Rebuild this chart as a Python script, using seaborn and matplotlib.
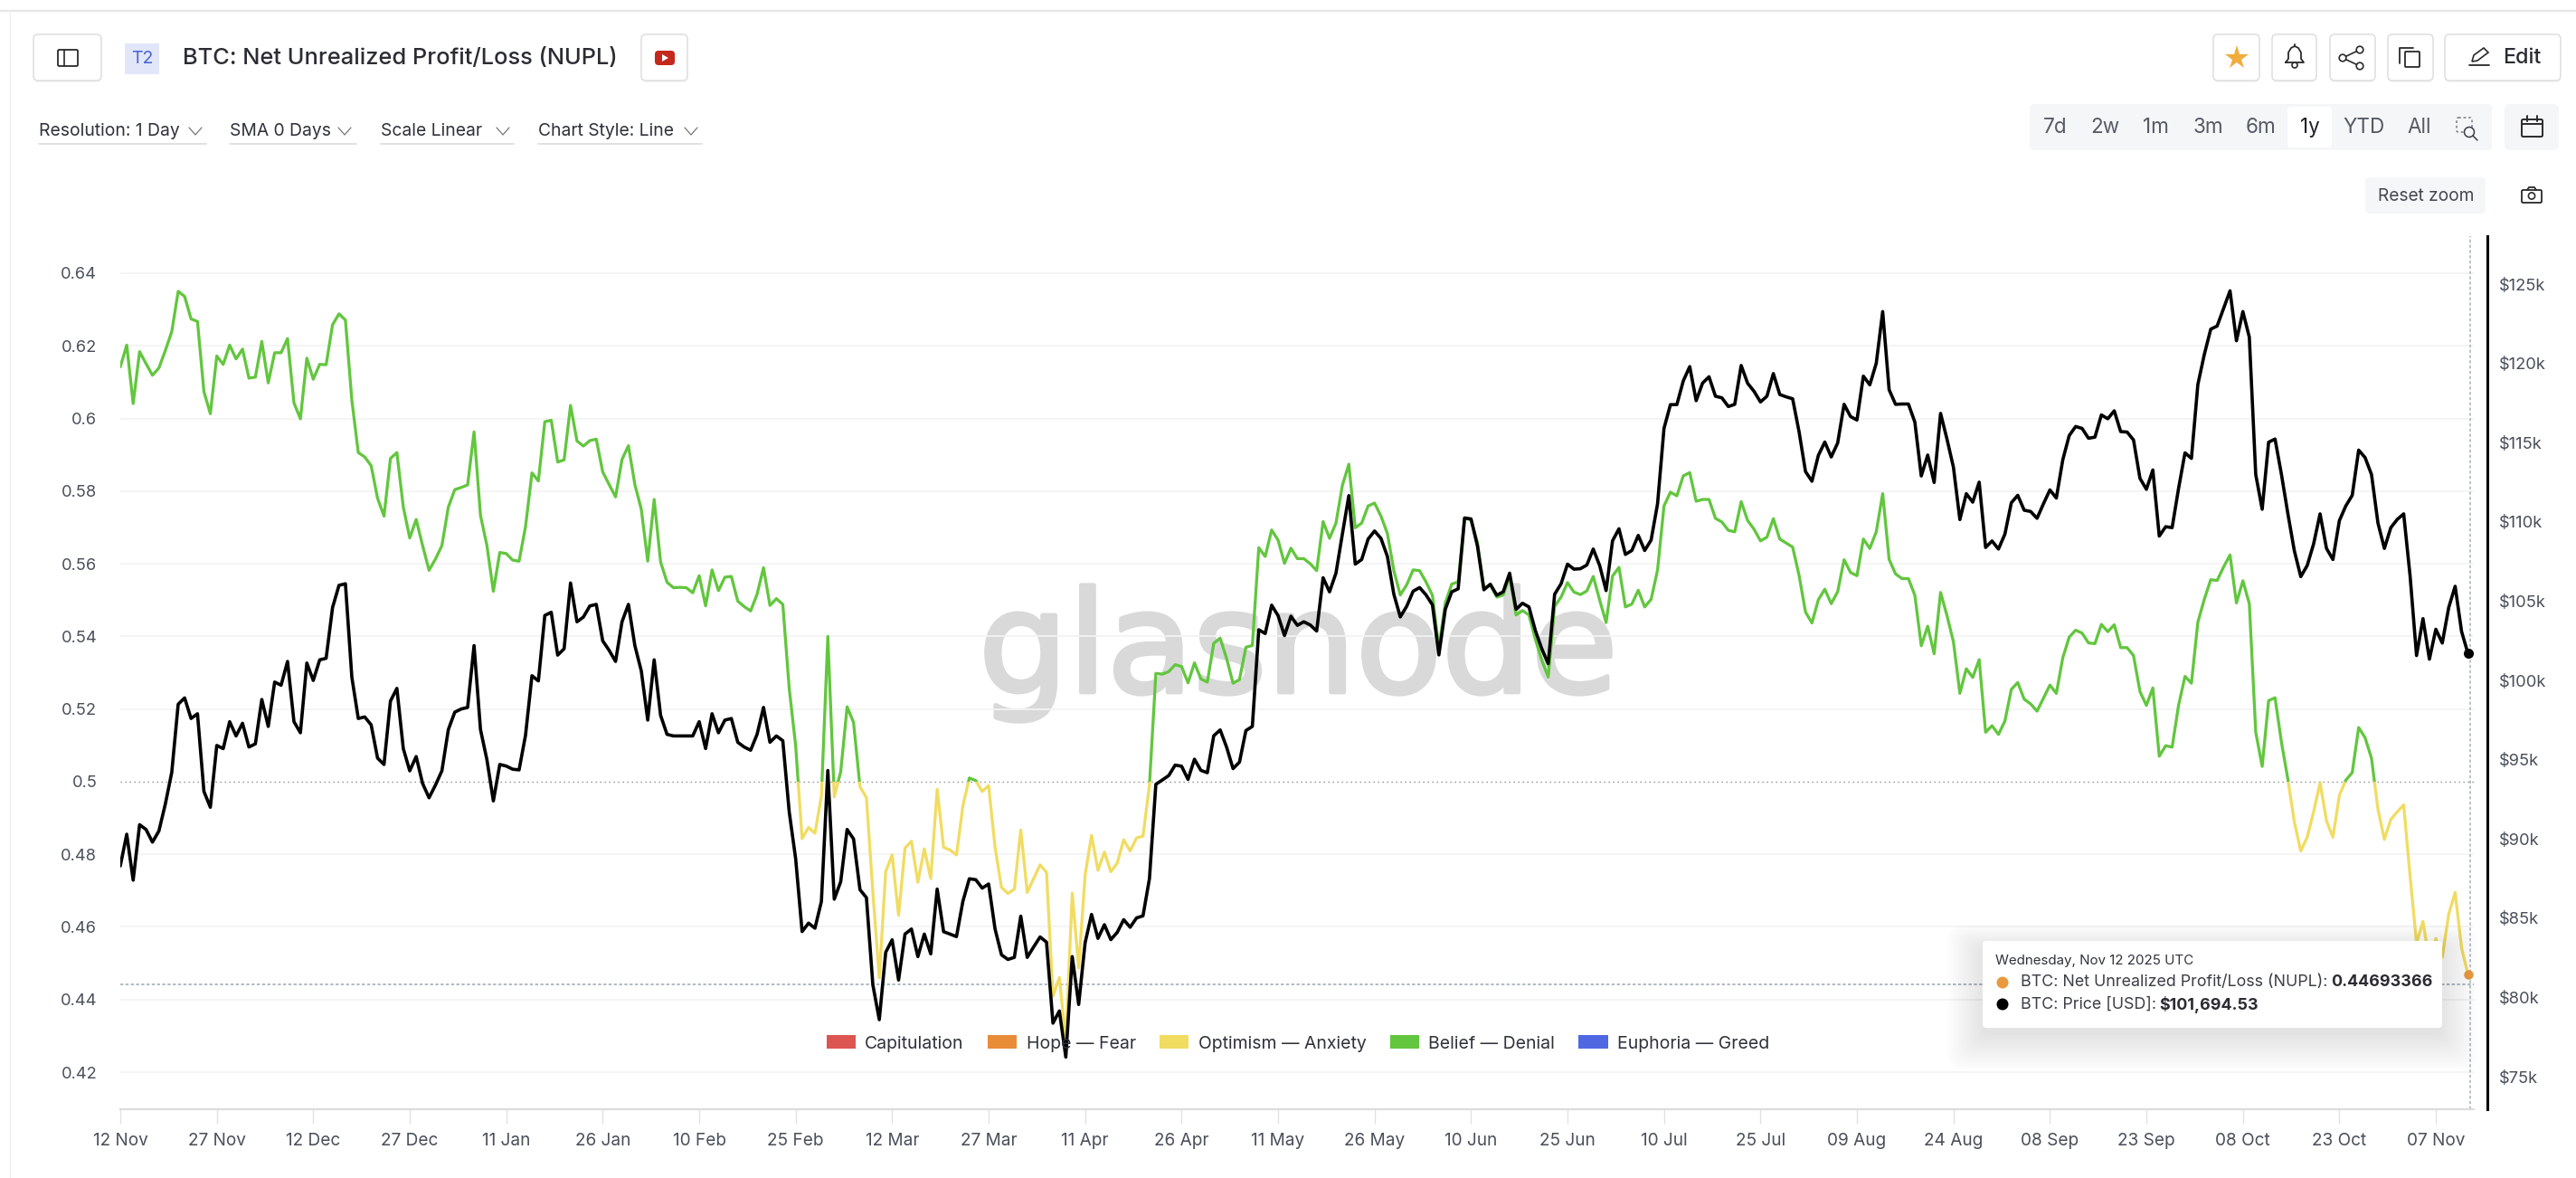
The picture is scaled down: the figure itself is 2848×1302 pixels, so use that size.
import numpy as np
import pandas as pd
import seaborn as sns
import matplotlib
matplotlib.use("Agg")
import matplotlib.pyplot as plt
import matplotlib.dates as mdates
import matplotlib.patheffects as pe
from matplotlib.patches import FancyBboxPatch, Rectangle, Patch, Polygon, Circle

# ---------------------------------------------------------------- data
START_DATE = "2024-11-12"
NUPL = [
 .6142,.6202,.6041,.6184,.6151,.6119,.6139,.6187,.6239,.6350,.6336,.6274,.6267,.6074,.6013,.6172,.6149,.6202,.6164,.6191,
 .6111,.6114,.6212,.6098,.6181,.6181,.6220,.6043,.5999,.6166,.6108,.6149,.6148,.6258,.6288,.6271,.6050,.5906,.5894,.5870,
 .5780,.5731,.5890,.5906,.5756,.5671,.5722,.5650,.5582,.5613,.5650,.5756,.5804,.5810,.5817,.5963,.5733,.5650,.5524,.5631,
 .5628,.5610,
 .5607,.5702,.5850,.5828,.5991,.5995,.5880,.5886,.6036,.5938,.5924,.5939,.5943,.5853,.5818,.5784,.5887,.5925,.5818,.5750,
 .5607,.5777,.5605,.5549,.5534,.5535,.5534,.5520,.5567,.5484,.5583,.5526,.5563,.5565,.5497,.5482,.5470,.5516,.5589,.5485,
 .5504,.5488,.5256,.5099,.4843,.4874,.4858,.4960,.5400,.4958,.5027,.5206,.5163,.4986,.4956,
 .4696,.4460,.4753,.4798,.4632,.4817,.4836,
 .4723,.4815,.4733,.4979,.4819,.4812,.4798,.4933,.5010,.5003,.4973,.4989,.4819,.4709,.4692,.4704,.4867,.4695,.4733,.4771,
 .4750,.4409,.4461,.4285,.4693,.4487,.4743,.4852,.4756,.4806,.4752,.4776,.4840,.4809,.4845,.4850,.4990,.5298,.5296,.5303,
 .5322,.5317,.5272,.5327,.5283,.5274,.5381,.5395,.5339,.5271,.5281,.5370,.5375,.5644,.5620,
 .5693,.5665,.5601,.5643,.5614,.5614,
 .5600,.5581,.5716,.5670,.5712,.5816,.5874,.5699,.5712,.5759,.5767,.5731,.5683,.5581,.5514,.5542,.5583,.5581,.5550,.5513,
 .5367,.5492,.5544,.5550,.5726,.5720,.5658,.5533,.5542,.5508,.5514,.5566,.5459,.5471,.5459,.5392,.5334,.5288,.5483,.5508,
 .5548,.5522,.5515,.5525,.5565,.5500,.5438,.5566,.5590,.5481,.5489,.5527,.5481,.5502,.5583,.5759,.5797,.5787,.5842,.5851,
 .5772,.5777,
 .5777,.5725,.5715,.5692,.5688,.5771,.5719,.5695,.5663,.5673,.5724,.5668,.5657,.5646,.5568,.5467,.5437,.5501,.5530,.5490,
 .5523,.5611,.5576,.5567,.5668,.5642,.5688,.5793,.5612,.5572,.5559,.5559,.5513,.5374,.5428,.5352,.5521,.5457,.5385,.5243,
 .5311,.5287,.5336,.5136,.5154,.5130,.5167,.5254,.5273,.5227,.5214,.5194,.5230,.5266,.5243,.5341,.5398,.5417,.5409,.5382,
 .5380,
 .5433,.5413,.5432,.5369,.5369,.5347,.5248,.5210,.5258,.5070,.5099,.5095,.5210,.5290,.5271,.5439,.5502,.5556,.5554,.5591,
 .5624,.5492,.5553,.5490,.5136,.5042,.5223,.5231,.5108,.5006,.4889,.4809,.4847,.4917,.4997,.4892,.4847,.4962,.5004,.5025,
 .5149,.5121,.5064,.4924,.4841,.4896,.4917,.4936,.4739,.4555,.4615,.4505,.4568,.4517,.4635,.4695,.4542,.44693366,
]
PRICE_K = [
 88.3,90.3,87.4,90.9,90.6,89.8,90.5,92.2,94.2,98.5,98.9,97.6,97.9,93.0,92.0,95.9,95.7,97.4,96.5,97.3,
 95.8,96.0,98.8,97.1,99.9,99.7,101.2,97.4,96.7,101.1,100.0,101.3,101.4,104.6,106.0,106.1,100.2,97.6,97.7,97.2,
 95.1,94.7,98.7,99.5,95.7,94.3,95.2,93.5,92.6,93.4,94.3,96.9,98.0,98.2,98.3,102.2,96.9,95.0,92.4,94.7,
 94.6,94.4,
 94.36,96.54,100.3,99.97,104.1,104.3,101.6,102.0,106.15,103.7,104.0,104.7,104.8,102.5,101.9,101.2,103.7,104.8,102.2,100.6,
 97.5,101.3,97.8,96.6,96.5,96.5,96.5,96.5,97.4,95.7,97.9,96.7,97.5,97.6,96.1,95.8,95.6,96.6,98.3,96.1,
 96.5,96.2,91.7,88.75,
 84.16,84.69,84.37,86.06,94.32,86.2,87.3,90.6,90.0,86.8,86.3,
 80.8,78.6,82.85,83.64,81.1,84.0,
 84.32,82.58,84.0,82.75,86.84,84.15,84.0,83.84,86.07,87.49,87.43,86.9,87.16,84.32,82.69,82.4,82.53,85.13,82.53,83.19,
 83.82,83.49,78.38,79.15,76.24,82.58,79.56,83.45,85.24,83.73,84.59,83.65,84.11,84.91,84.43,85.02,85.15,87.49,93.45,93.72,
 94.0,94.66,94.59,93.76,95.03,94.33,94.18,96.51,96.88,95.79,94.44,94.85,96.84,97.1,103.2,102.96,104.75,104.09,102.83,104.05,
 103.48,103.7,103.5,
 103.12,106.48,105.59,106.77,109.24,111.66,107.34,107.63,108.92,109.43,108.96,107.82,105.44,104.01,104.68,105.63,105.86,105.4,104.77,101.61,
 104.49,105.59,105.78,110.25,110.19,108.48,105.72,106.07,105.38,105.59,106.77,104.49,104.87,104.64,103.15,102.0,101.06,105.44,106.1,107.34,
 107.02,107.05,107.28,108.29,107.25,105.67,108.81,109.57,107.95,108.2,109.15,108.2,108.86,111.15,
 115.9,117.4,117.4,118.9,119.8,117.65,118.76,
 119.16,117.93,117.83,117.28,117.42,119.87,118.75,118.24,117.57,117.93,119.36,118.04,117.89,117.77,115.69,113.18,112.57,114.2,115.04,114.1,
 114.98,117.42,116.65,116.43,119.2,118.65,120.01,123.27,118.34,117.42,117.44,117.44,116.3,112.9,114.22,112.49,116.85,115.22,113.45,110.15,
 111.78,111.25,112.51,108.39,108.8,108.29,109.23,111.21,111.68,110.74,110.66,110.23,111.15,112.02,111.51,113.92,115.45,116.02,115.9,115.28,
 115.35,116.75,116.51,
 117.01,115.7,115.67,115.17,112.75,112.06,113.28,109.11,109.7,109.64,112.11,114.36,114.01,118.67,120.56,122.16,122.36,123.47,124.58,121.43,
 123.27,121.66,112.99,110.8,115.03,115.23,112.99,110.51,108.18,106.55,107.25,108.62,110.51,108.33,107.63,110.08,111.01,111.68,114.53,114.06,
 112.99,109.93,108.33,109.64,110.16,110.51,106.58,101.57,103.9,101.34,103.23,102.36,104.6,105.94,103.09,101.69453,
]
assert len(NUPL) == 366 and len(PRICE_K) == 366, (len(NUPL), len(PRICE_K))

X_TICK_LABELS = ["12 Nov","27 Nov","12 Dec","27 Dec","11 Jan","26 Jan","10 Feb","25 Feb","12 Mar","27 Mar","11 Apr",
                 "26 Apr","11 May","26 May","10 Jun","25 Jun","10 Jul","25 Jul","09 Aug","24 Aug","08 Sep","23 Sep",
                 "08 Oct","23 Oct","07 Nov"]
NUPL_TICKS = [.42,.44,.46,.48,.5,.52,.54,.56,.58,.6,.62,.64]
NUPL_TICK_LABELS = ["0.42","0.44","0.46","0.48","0.5","0.52","0.54","0.56","0.58","0.6","0.62","0.64"]
PRICE_TICKS = [75,80,85,90,95,100,105,110,115,120,125]
PRICE_TICK_LABELS = [f"${t}k" for t in PRICE_TICKS]
ZONE_NAMES = ["Capitulation","Hope — Fear","Optimism — Anxiety","Belief — Denial","Euphoria — Greed"]
ZONE_COLORS = ["#dc5550","#e98c38","#f1dc62","#62c63e","#4f68e2"]
CROSSHAIR_NUPL = 0.4441

# ---------------------------------------------------------------- theme
sns.set_theme(style="white")
FONT = ["Inter", "DejaVu Sans"]
plt.rcParams["font.family"] = FONT
W, H = 2848, 1302
TXT = "#33363d"
TICK = "#4a4f5a"

fig = plt.figure(figsize=(W/100, H/100), dpi=100, facecolor="white")
L, R, T, B = 133, 2735, 261, 1226
ax = fig.add_axes([L/W, 1-B/H, (R-L)/W, (B-T)/H])

dates = pd.date_range(START_DATE, periods=len(NUPL), freq="D")
df = pd.DataFrame({"date": dates, "nupl": NUPL, "price": PRICE_K})
x0, x1 = dates[0], dates[0] + pd.Timedelta(days=365.9)

sns.lineplot(data=df, x="date", y="nupl", ax=ax, color="#62c63e", lw=2.35, errorbar=None, legend=False)
green = ax.lines[-1]
sns.lineplot(data=df, x="date", y="nupl", ax=ax, color="#f1dc62", lw=2.35, errorbar=None, legend=False)
yellow = ax.lines[-1]
ax.set_xlim(x0, x1)
ax.set_ylim(0.4098, 0.6502)
xa, xb = mdates.date2num(x0), mdates.date2num(x1)
green.set_clip_path(Rectangle((xa, .5), xb-xa, .1502, transform=ax.transData))
yellow.set_clip_path(Rectangle((xa, .4098), xb-xa, .0902, transform=ax.transData))

ax.set_xlabel(""); ax.set_ylabel("")
ax.set_xticks(list(dates[::15]))
ax.set_xticklabels(X_TICK_LABELS)
ax.set_yticks(NUPL_TICKS)
ax.set_yticklabels(NUPL_TICK_LABELS)
ax.tick_params(axis="x", length=11.5, width=1, color="#e2e2e2", labelsize=13.7, labelcolor=TICK, pad=7, bottom=True)
ax.tick_params(axis="y", length=0, labelsize=13.2, labelcolor=TICK, pad=18.5)
for s in ["left", "top", "right"]:
    ax.spines[s].set_visible(False)
ax.spines["bottom"].set_color("#dcdcdc")
ax.spines["bottom"].set_linewidth(1.6)
ax.grid(True, axis="y", color="#f3f3f3", lw=1.3)
ax.grid(False, axis="x")
for gl, v in zip(ax.yaxis.get_gridlines(), NUPL_TICKS):
    if v == .5:
        gl.set_visible(False)
ax.axhline(.5, color="#8a8a8a", lw=1.0, ls=(0, (1, 2.6)), zorder=1.6)
ax.axhline(CROSSHAIR_NUPL, color="#9ba7b6", lw=1.1, ls=(0, (2.2, 1.6)), zorder=1.6)
ax.axvline(mdates.date2num(x0 + pd.Timedelta(days=365.4)), color="#a8b2be", lw=1.1, ls=(0, (2.2, 1.6)), zorder=1.6)
ax.plot([dates[-1]], [NUPL[-1]], "o", color="#e99a3f", ms=7.5, mew=0, zorder=5, clip_on=False)
ax.text(1082/W, 1-765/H, "glasnode", transform=fig.transFigure, fontsize=112, family="DejaVu Sans",
        color="#d9d9d9", va="baseline", ha="left", zorder=.5,
        path_effects=[pe.withStroke(linewidth=3.5, foreground="#d9d9d9")])

# right axis
tw = ax.twinx()
sns.lineplot(data=df, x="date", y="price", ax=tw, color="black", lw=2.6, errorbar=None, legend=False)
tw.plot([dates[-1]], [PRICE_K[-1]], "o", color="black", ms=8, mew=0, zorder=5, clip_on=False)
tw.set_xlim(x0, x1)
tw.set_ylim(72.95, 128.03)
tw.set_ylabel(""); tw.set_xlabel("")
tw.set_yticks(PRICE_TICKS)
tw.set_yticklabels(PRICE_TICK_LABELS)
tw.grid(False)
tw.tick_params(axis="y", length=0, labelsize=13.2, labelcolor=TICK, pad=9)
for s in ["left", "top", "bottom"]:
    tw.spines[s].set_visible(False)
tw.spines["right"].set_position(("outward", 10.8))
tw.spines["right"].set_color("black")
tw.spines["right"].set_linewidth(2.2)
tw.spines["right"].set_visible(True)

handles = [Patch(facecolor=c, edgecolor="none", label=n) for n, c in zip(ZONE_NAMES, ZONE_COLORS)]
tw.legend(handles=handles, ncol=5, frameon=False, fontsize=14, loc="center",
          bbox_to_anchor=((1435 - L)/(R-L), 1-(1153.5-T)/(B-T)),
          handlelength=1.65, handleheight=.8, handletextpad=.53, columnspacing=1.36, labelcolor="#2f323a",
          borderpad=0, borderaxespad=0)

# ---------------------------------------------------------------- page chrome overlay (pixel space)
ui = fig.add_axes([0, 0, 1, 1], zorder=10, facecolor="none")
ui.set_xlim(0, W); ui.set_ylim(H, 0); ui.axis("off")

def box(x0, y0, x1, y1, fc="white", ec="#dedede", lw=1.1, r=5, z=3, alpha=None):
    p = FancyBboxPatch((x0, y0), x1-x0, y1-y0, boxstyle=f"round,pad=0,rounding_size={r}",
                       fc=fc, ec=ec, lw=lw, zorder=z, alpha=alpha)
    ui.add_patch(p)
    return p

def seg(xs, ys, c="#2a2a2a", lw=1.5, z=4, **kw):
    ui.plot(xs, ys, color=c, lw=lw, zorder=z, solid_capstyle="round", **kw)

def chev(cx, cy, c="#777777"):
    seg([cx-7, cx, cx+7], [cy-4, cy+4, cy-4], c=c, lw=0.9)

def label(x, y, s, size=13, c=TXT, ha="left", weight="normal", z=5):
    ui.text(x, y+1, s, fontsize=size, color=c, ha=ha, va="center", fontweight=weight, zorder=z)

# frame lines
ui.plot([0, W], [12, 12], color="#e6e6e6", lw=1.6, zorder=1)
ui.plot([11, 11], [12, H], color="#f0f0f0", lw=1.0, zorder=1)

# header
for a, b in [(37, 112), (709, 760), (2447, 2498), (2512, 2561), (2576, 2626), (2640, 2690), (2703, 2831)]:
    box(a, 40, b, 91, fc="#f4f4f4", ec="none", z=2, r=6)
    box(a, 38, b, 89)
box(64, 55, 86, 73, fc="none", ec="#2a2a2a", lw=1.3, r=1.5)
seg([71, 71], [55, 73], lw=1.2)
ui.add_patch(Rectangle((138, 48), 38, 34, fc="#e1e6f8", ec="none", zorder=3))
label(157, 64, "T2", 14, "#4a63d8", "center")
label(202, 63, "BTC: Net Unrealized Profit/Loss (NUPL)", 18.3, "#2b2d33", weight="medium")
box(724, 56, 746, 72, fc="#c5281c", ec="none", r=4)
ui.add_patch(Polygon([[732, 60], [732, 68], [739, 64]], fc="white", ec="none", zorder=5))

for tx, s, cx, a, b in [(43, "Resolution: 1 Day", 216, 43, 228), (254, "SMA 0 Days", 381, 254, 394),
                        (421, "Scale Linear", 556, 421, 568), (595, "Chart Style: Line", 764, 595, 776)]:
    label(tx, 143.5, s, 13.9, "#2f323a")
    chev(cx, 145)
    ui.plot([a, b], [159, 159], color="#dcdcdc", lw=1.2, zorder=3)

ui.plot([2473], [64], marker="*", ms=20, color="#f0ad3c", mew=0, zorder=5)
# bell
seg([2527, 2530, 2530, 2533, 2537, 2541, 2544, 2544, 2547, 2527],
    [69, 65, 58, 53, 51, 53, 58, 65, 69, 69], lw=1.3)
seg([2537, 2537], [49, 51], lw=1.3)
ui.add_patch(Circle((2537, 72), 3, fc="white", ec="#2a2a2a", lw=1.2, zorder=4))
# share
seg([2609, 2590, 2609], [55, 64, 73], lw=1.2)
for c_ in [(2590, 64), (2609, 55), (2609, 73)]:
    ui.add_patch(Circle(c_, 3.8, fc="white", ec="#2a2a2a", lw=1.2, zorder=5))
# copy
box(2659, 57, 2675, 74, fc="white", ec="#2a2a2a", lw=1.3, r=1)
seg([2653, 2653, 2668], [70, 53, 53], lw=1.3)
# pencil + edit
ui.add_patch(Polygon([[2733, 68], [2735, 61], [2746, 53], [2751, 58], [2739, 67]], fc="none", ec="#2a2a2a", lw=1.2, zorder=4))
seg([2730, 2752], [72, 72], lw=1.3)
label(2767, 63, "Edit", 16.8, "#2a2d33", weight="medium")

# range picker
box(2244, 115, 2755, 166, fc="#f5f6f8", ec="none", r=5)
box(2529, 118, 2578, 163, fc="white", ec="none", r=4, z=3.5)
for cx, s in [(2272, "7d"), (2327, "2w"), (2383, "1m"), (2441, "3m"), (2500, "6m"), (2554, "1y"), (2614, "YTD"), (2675, "All")]:
    label(cx, 140, s, 16.2, "#1f2127" if s == "1y" else "#565a63", "center")
box(2716, 130, 2733, 146, fc="none", ec="#6b6f77", lw=1.0, r=2).set_linestyle((0, (2, 2)))
ui.add_patch(Circle((2730, 146), 5.5, fc="#f5f6f8", ec="#3a3d44", lw=1.1, zorder=5))
seg([2734, 2739], [150, 155], lw=1.1, c="#3a3d44", z=5)
box(2769, 115, 2829, 166, fc="#f5f6f8", ec="none", r=6)
box(2788, 132, 2811, 151, fc="none", ec="#2a2a2a", lw=1.4, r=1.5)
seg([2788, 2811], [137, 137], lw=1.4)
seg([2794, 2794], [128, 134], lw=1.4)
seg([2805, 2805], [128, 134], lw=1.4)
# reset zoom + camera
box(2615, 196, 2748, 236, fc="#f5f6f8", ec="none", r=5)
label(2682, 215.5, "Reset zoom", 13.8, "#44474f", "center")
box(2788, 210, 2810, 224, fc="none", ec="#2a2a2a", lw=1.3, r=1.5)
seg([2794, 2796, 2802, 2804], [210, 207, 207, 210], lw=1.3)
ui.add_patch(Circle((2799, 216.5), 3.6, fc="none", ec="#2a2a2a", lw=1.2, zorder=4))

# tooltip
for k in range(14):
    box(2192-k*3, 1040-k*2+8, 2700+k*3, 1136+k*3+8, fc="black", ec="none", r=6+k, z=6, alpha=.008)
box(2192, 1040, 2700, 1136, fc="white", ec="none", r=4, z=7)
label(2206, 1061, "Wednesday, Nov 12 2025 UTC", 10.9, "#2f323a", z=8)
ui.add_patch(Circle((2214, 1086), 6.5, fc="#e99a3f", ec="none", zorder=8))
label(2234, 1085, "BTC: Net Unrealized Profit/Loss (NUPL):", 12.85, "#3b3e46", z=8)
label(2577, 1085, "0.44693366", 12.9, "#2a2c31", weight="bold", z=8)
ui.add_patch(Circle((2214, 1110), 6.5, fc="black", ec="none", zorder=8))
label(2234, 1109, "BTC: Price [USD]:", 12.85, "#3b3e46", z=8)
label(2387, 1109, "$101,694.53", 12.9, "#2a2c31", weight="bold", z=8)

fig.savefig("out.png", dpi=100, facecolor="white")
